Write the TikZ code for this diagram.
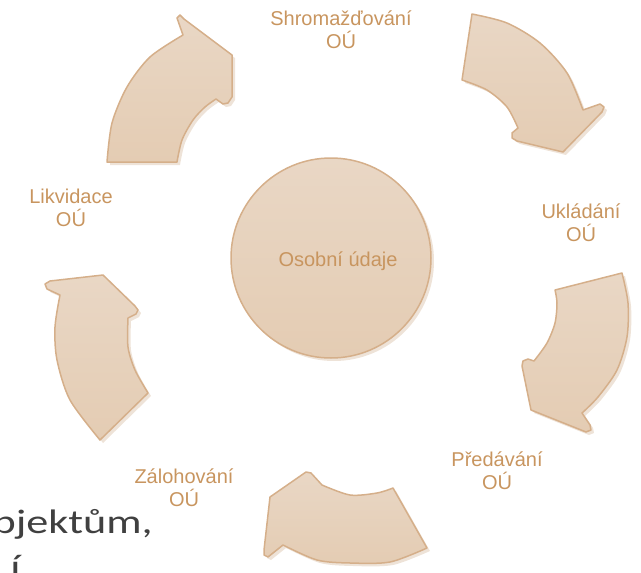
\documentclass[tikz,border=0pt]{standalone}
\usepackage{fontspec}
\setmainfont{Liberation Sans}
\newfontfamily\bodyfont{Carlito}
\definecolor{arrfillA}{HTML}{E9D7C5}
\definecolor{arrfillB}{HTML}{E4CCB3}
\definecolor{arrline}{HTML}{D5AF8A}
\definecolor{shadowc}{HTML}{EEE3D8}
\definecolor{lblc}{HTML}{C8955F}
\definecolor{bodytext}{HTML}{404040}
\newcommand{\cyclearrow}[1]{\fill[shadowshape] #1; \path[arrowshape] #1;}
\begin{document}
\begin{tikzpicture}[x=1pt,y=-1pt,
  shadowshape/.style={fill=shadowc, shift={(3,3)}, line join=round},
  arrowshape/.style={draw=arrline, line width=1.5pt, line join=round, top color=arrfillA, bottom color=arrfillB},
  lbl/.style={text=lblc, font=\fontsize{20}{23}\selectfont, align=center, inner sep=0pt},
  bigtext/.style={text=bodytext, font=\bodyfont\fontsize{34}{40}\selectfont, inner sep=0pt, xscale=1.3}]
\useasboundingbox (0,0) rectangle (641,573);
\begin{scope}
\clip (0,0) rectangle (641,573);
% top-left arrow
\cyclearrow{(107,162) -- (177,162) -- plot[smooth] coordinates {(177,162) (182,140) (193,120) (205,107) (216,99)} -- (223,104) -- (228,103) -- (232,97) -- (232,55) -- (184,19) -- (180,15) -- (177,18) -- (183,35) -- plot[smooth] coordinates {(183,35) (150,57) (127,87) (112,123) (107,162)} -- cycle}
% top-right arrow
\cyclearrow{(472,14) -- plot[smooth] coordinates {(472,14) (507,23) (540,43) (567,73) (583,110)} -- (600,104) -- (604,107) -- (602,112) -- (563,152) -- (517,141) -- (512,138) -- (512,133) -- (518,128) -- plot[smooth] coordinates {(518,128) (507,107) (487,90) (462,80)} -- cycle}
% right arrow
\cyclearrow{(555,290) -- (622,273) -- plot[smooth] coordinates {(622,273) (628,303) (627,337) (617,370) (598,397) (582,413)} -- (590,425) -- (591,430) -- (586,432) -- (531,410) -- (522,366) -- (523,361) -- (528,359) -- (534,361) -- plot[smooth] coordinates {(534,361) (547,343) (555,323) (557,303) (555,290)} -- cycle}
% bottom arrow
\cyclearrow{(393,488) -- (427,548) -- plot[smooth] coordinates {(427,548) (390,562) (350,563) (317,560) (283,545)} -- (268,557) -- (264,555) -- (264,550) -- (270,497) -- (306,472) -- (311,473) -- (322,485) -- plot[smooth] coordinates {(322,485) (350,495) (377,493) (393,488)} -- cycle}
% left arrow
\cyclearrow{(100,440) -- (148,393) -- plot[smooth] coordinates {(148,393) (135,370) (128,347) (128,318)} -- (136,314) -- (138,310) -- (135,306) -- (103,275) -- (50,281) -- (45,284) -- (47,289) -- (60,295) -- plot[smooth] coordinates {(60,295) (55,327) (57,360) (70,400) (100,440)} -- cycle}
% centre circle
\fill[shadowc] (334,261) circle[radius=100];
\path[arrowshape] (331,258) circle[radius=100];
\node[lbl, anchor=base] (centre) at (338,266) {Osobní údaje};
% labels
\node[lbl] (shrom) at (341,29.5) {Shromažďování\\OÚ};
\node[lbl] (uklad) at (581,223) {Ukládání\\OÚ};
\node[lbl] (predav) at (497,471) {Předávání\\OÚ};
\node[lbl] (zaloh) at (184,488) {Zálohování\\OÚ};
\node[lbl] (likv) at (71,208) {Likvidace\\OÚ};
% slide text fragment
\node[bigtext, anchor=base east] (subj) at (153,533) {subjektům,};
\node[bigtext, anchor=base west] (nextline) at (10,578) {í};
\end{scope}
\end{tikzpicture}
\end{document}
